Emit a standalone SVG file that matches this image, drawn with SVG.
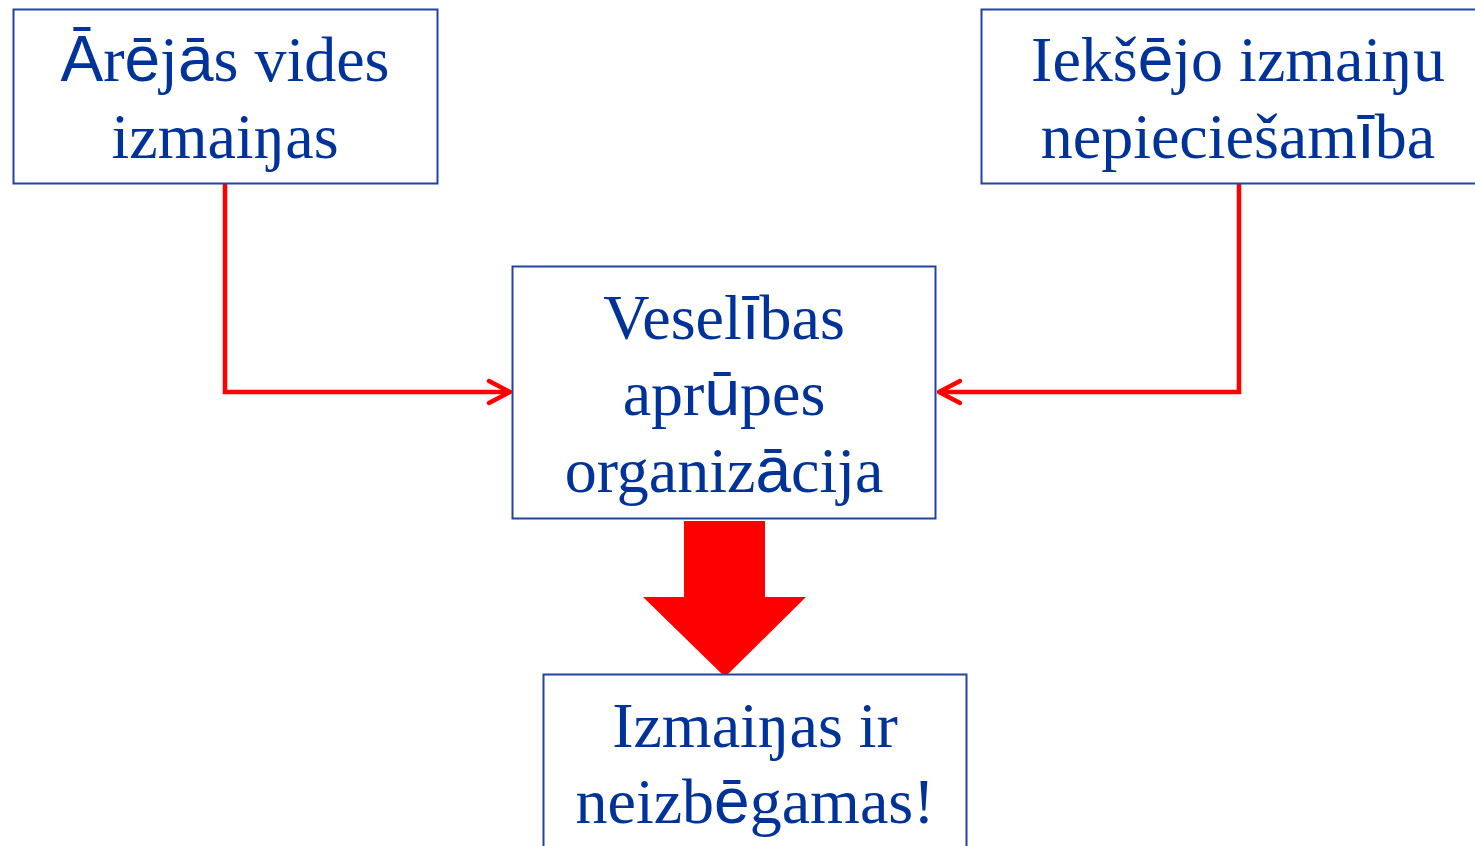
<svg xmlns="http://www.w3.org/2000/svg" width="1475" height="846" viewBox="0 0 1475 846">
<style>
.box{fill:#fff;stroke:#2343a0;stroke-width:2}
.t{font-family:"Liberation Serif","Times New Roman",serif;font-size:64px;fill:#003399;text-anchor:middle}
.s{font-family:"Liberation Sans",Arial,sans-serif}
.conn{fill:none;stroke:#ff0000;stroke-width:4.5}
.head{fill:none;stroke:#ff0000;stroke-width:4.5;stroke-linecap:round;stroke-linejoin:round}
</style>
<rect width="1475" height="846" fill="#fff"/>
<g id="connectors">
<path class="conn" d="M225,183 V392 H510"/>
<path class="head" d="M489,381 L510,392 L489,403"/>
<path class="conn" d="M1239,183 V392 H939"/>
<path class="head" d="M960,381 L939,392 L960,403"/>
<polygon points="684,521 765,521 765,597 806,597 725,677 643,597 684,597" fill="#ff0000"/>
</g>
<g id="node-external">
<rect class="box" x="13.5" y="9.5" width="424" height="174"/>
<text class="t" x="225" y="81"><tspan class="s">Ā</tspan>r<tspan class="s">ē</tspan>j<tspan class="s">ā</tspan>s vides</text>
<text class="t" x="225" y="158">izmaiŋas</text>
</g>
<g id="node-internal">
<rect class="box" x="981.5" y="9.5" width="514" height="174"/>
<text class="t" x="1238" y="81">Iekš<tspan class="s">ē</tspan>jo izmaiŋu</text>
<text class="t" x="1238" y="158">nepieciešam<tspan class="s">ī</tspan>ba</text>
</g>
<g id="node-org">
<rect class="box" x="512.5" y="266.5" width="423" height="252"/>
<text class="t" x="724" y="339">Vesel<tspan class="s">ī</tspan>bas</text>
<text class="t" x="724" y="415">apr<tspan class="s">ū</tspan>pes</text>
<text class="t" x="724" y="492">organiz<tspan class="s">ā</tspan>cija</text>
</g>
<g id="node-result">
<rect class="box" x="543.5" y="674.5" width="423" height="200"/>
<text class="t" x="755" y="747">Izmaiŋas ir</text>
<text class="t" x="755" y="823">neizb<tspan class="s">ē</tspan>gamas!</text>
</g>
</svg>
